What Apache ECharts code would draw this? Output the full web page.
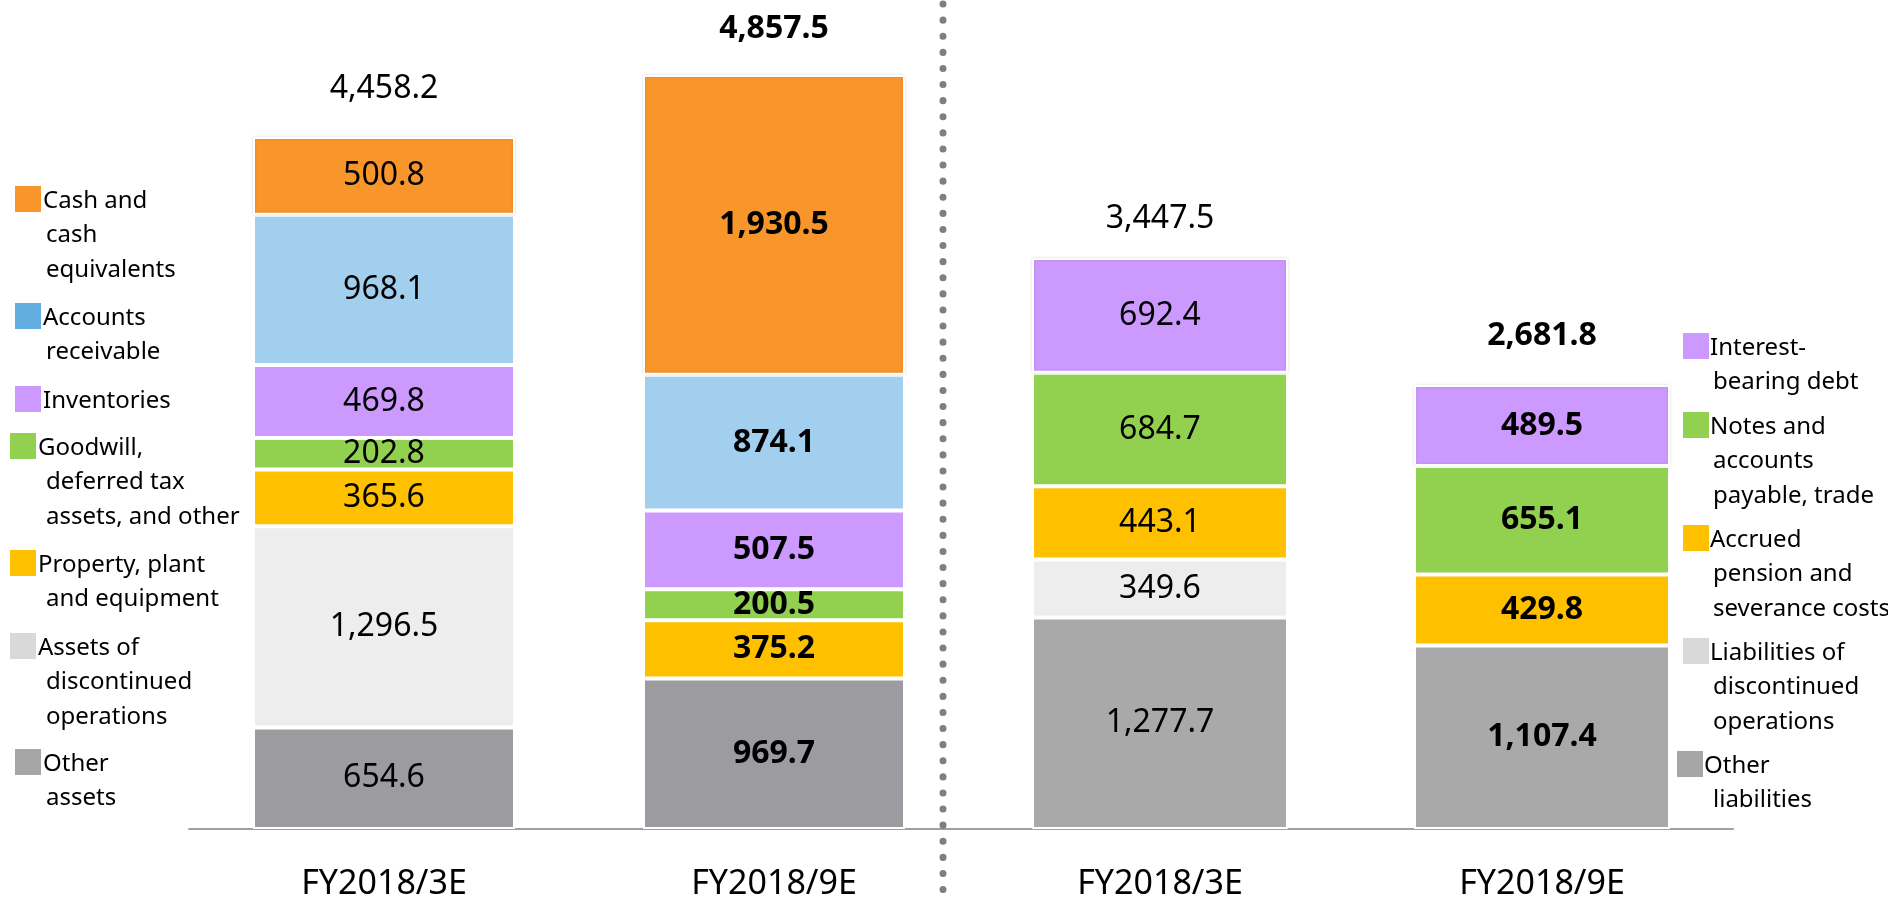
<!DOCTYPE html>
<html>
<head>
<meta charset="utf-8">
<script src="https://cdn.jsdelivr.net/npm/echarts@6/dist/echarts.min.js"></script>
<style>
    html, body { margin: 0; padding: 0; background: #fff; }
    #chart { width: 1888px; height: 901px; }
</style>
</head>
<body>
<div id="chart"></div>
<script>
// categories
var categories = ['FY2018/3E', 'FY2018/9E'];

// assets, bottom to top
var otherAssets = [654.6, 969.7];
var assetsDiscontinued = [1296.5, null];
var propertyPlant = [365.6, 375.2];
var goodwill = [202.8, 200.5];
var inventories = [469.8, 507.5];
var receivable = [968.1, 874.1];
var cash = [500.8, 1930.5];
var assetTotals = [4458.2, 4857.5];

// liabilities, bottom to top
var otherLiabilities = [1277.7, 1107.4];
var liabDiscontinued = [349.6, null];
var accruedPension = [443.1, 429.8];
var notesPayable = [684.7, 655.1];
var interestDebt = [692.4, 489.5];
var liabTotals = [3447.5, 2681.8];

// legend texts
var assetLegend = [
    ['Cash and', 'cash', 'equivalents'],
    ['Accounts', 'receivable'],
    ['Inventories'],
    ['Goodwill,', 'deferred tax', 'assets, and other'],
    ['Property, plant', 'and equipment'],
    ['Assets of', 'discontinued', 'operations'],
    ['Other', 'assets']
];
var liabLegend = [
    ['Interest-', 'bearing debt'],
    ['Notes and', 'accounts', 'payable, trade'],
    ['Accrued', 'pension and', 'severance costs'],
    ['Liabilities of', 'discontinued', 'operations'],
    ['Other', 'liabilities']
];

var FONT = '"Noto Sans", "DejaVu Sans", sans-serif';

function fmt(v) {
    return v.toLocaleString('en-US', {minimumFractionDigits: 1, maximumFractionDigits: 1});
}

// second category is bold
function items(arr) {
    return arr.map(function (v, i) {
        if (v === null) return null;
        return {value: v, label: {fontWeight: i === 1 ? 'bold' : 'normal'}};
    });
}

function barSeries(name, arr, color, axis, stack, top) {
    var s = {
        name: name,
        type: 'bar',
        stack: stack,
        xAxisIndex: axis,
        yAxisIndex: axis,
        barWidth: axis === 0 ? 262 : 256,
        data: items(arr),
        itemStyle: {color: color, borderColor: '#fff', borderWidth: 2},
        label: {
            show: true,
            position: 'inside',
            color: '#000',
            fontSize: 32,
            fontFamily: FONT,
            formatter: function (p) { return fmt(p.value); }
        }
    };
    if (top) {
        s.itemStyle.shadowBlur = 3;
        s.itemStyle.shadowColor = 'rgba(0,0,0,0.12)';
    }
    return s;
}

// totals sit above each stack
function totalSeries(arr, axis, dist) {
    return {
        type: 'scatter',
        xAxisIndex: axis,
        yAxisIndex: axis,
        symbolSize: 0,
        silent: true,
        itemStyle: {color: '#000', opacity: 1},
        data: arr.map(function (v, i) {
            return {
                value: v,
                label: {fontWeight: i === 1 ? 'bold' : 'normal', distance: dist[i]}
            };
        }),
        label: {
            show: true,
            position: 'top',
            color: '#000',
            fontSize: 32,
            fontFamily: FONT,
            formatter: function (p) { return fmt(p.value); }
        }
    };
}

// legend blocks: square + lines of text
function legendBlock(sx, sy, color, lines, firstX, restX) {
    var els = [{
        type: 'rect',
        shape: {x: sx, y: sy, width: 26, height: 26},
        style: {fill: color}
    }];
    lines.forEach(function (t, i) {
        els.push({
            type: 'text',
            x: i === 0 ? firstX : restX,
            y: sy + 15 + i * 34.5,
            style: {text: t, fill: '#000', fontSize: 24, fontFamily: FONT, verticalAlign: 'middle'}
        });
    });
    return els;
}

var assetLegendColors = ['#F8962B', '#62AEE0', '#CC99FF', '#92D050', '#FFC000', '#D9D9D9', '#A6A6A6'];
var liabLegendColors = ['#CC99FF', '#92D050', '#FFC000', '#D9D9D9', '#A6A6A6'];
var assetLegendPos = [[15, 186], [15, 303], [15, 386], [10, 433], [10, 550], [10, 633], [15, 749]];
var liabLegendPos = [[1683, 333], [1683, 412], [1683, 525], [1683, 638], [1677, 751]];

var graphics = [];
assetLegend.forEach(function (lines, i) {
    var p = assetLegendPos[i];
    graphics = graphics.concat(legendBlock(p[0], p[1], assetLegendColors[i], lines, p[0] + 28, 46));
});
liabLegend.forEach(function (lines, i) {
    var p = liabLegendPos[i];
    graphics = graphics.concat(legendBlock(p[0], p[1], liabLegendColors[i], lines, p[0] + 27, 1713));
});
// dotted divider
graphics.push({
    type: 'line',
    shape: {x1: 943, y1: 4, x2: 943, y2: 901},
    style: {stroke: '#7F7F7F', lineWidth: 7, lineCap: 'round', lineDash: [0.1, 16]},
    z: 10
});

function xAxisCfg(idx) {
    return {
        type: 'category',
        gridIndex: idx,
        data: categories,
        axisTick: {show: false},
        axisLine: {lineStyle: {color: '#A0A0A0', width: 2}},
        axisLabel: {color: '#000', fontSize: 34, fontFamily: FONT, margin: 38}
    };
}
function yAxisCfg(idx) {
    return {type: 'value', gridIndex: idx, min: 0, max: 5000, show: false, splitLine: {show: false}};
}

var chart = echarts.init(document.getElementById('chart'));
chart.setOption({
    animation: false,
    backgroundColor: '#fff',
    grid: [
        {left: 189, width: 780, top: 53, bottom: 72},
        {left: 969, width: 764, top: 1, bottom: 72}
    ],
    xAxis: [xAxisCfg(0), xAxisCfg(1)],
    yAxis: [yAxisCfg(0), yAxisCfg(1)],
    series: [
        barSeries('Other assets', otherAssets, '#9C9BA0', 0, 'assets'),
        barSeries('Assets of discontinued operations', assetsDiscontinued, '#EDEDED', 0, 'assets'),
        barSeries('Property, plant and equipment', propertyPlant, '#FFC000', 0, 'assets'),
        barSeries('Goodwill, deferred tax assets, and other', goodwill, '#92D050', 0, 'assets'),
        barSeries('Inventories', inventories, '#CC99FF', 0, 'assets'),
        barSeries('Accounts receivable', receivable, '#A3CFEE', 0, 'assets'),
        barSeries('Cash and cash equivalents', cash, '#F8962B', 0, 'assets', true),
        totalSeries(assetTotals, 0, [32, 30]),

        barSeries('Other liabilities', otherLiabilities, '#A9A9A9', 1, 'liab'),
        barSeries('Liabilities of discontinued operations', liabDiscontinued, '#EDEDED', 1, 'liab'),
        barSeries('Accrued pension and severance costs', accruedPension, '#FFC000', 1, 'liab'),
        barSeries('Notes and accounts payable, trade', notesPayable, '#92D050', 1, 'liab'),
        barSeries('Interest-bearing debt', interestDebt, '#CC99FF', 1, 'liab', true),
        totalSeries(liabTotals, 1, [23, 33])
    ],
    graphic: graphics
});
</script>
</body>
</html>
